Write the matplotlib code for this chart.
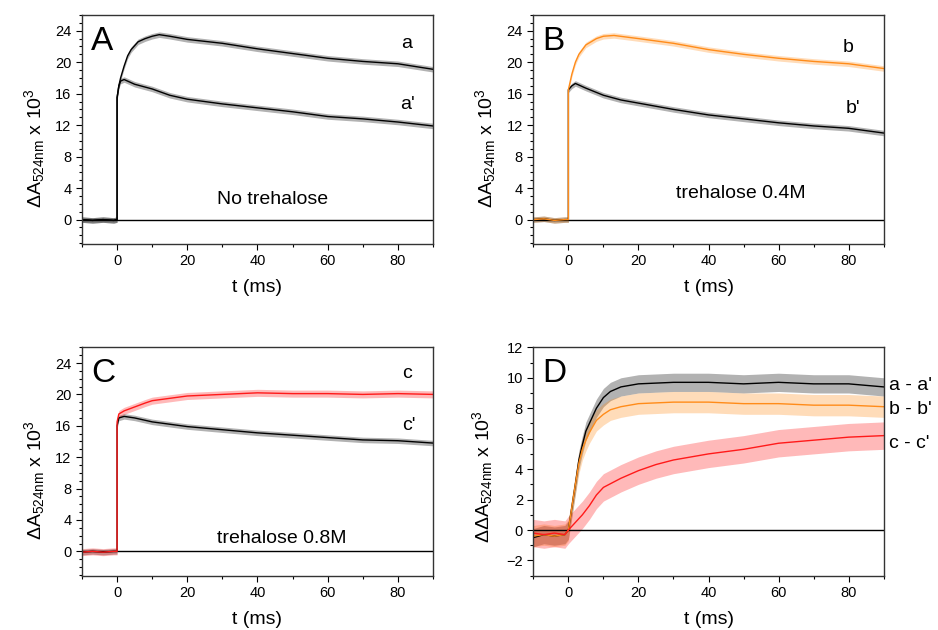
import numpy as np
import matplotlib
matplotlib.use("Agg")
import matplotlib.pyplot as plt
from matplotlib.ticker import MultipleLocator

plt.rcParams['font.family'] = ['Liberation Sans', 'DejaVu Sans']
plt.rcParams['mathtext.default'] = 'regular'

# values (t in ms, signal x 10^3)
# panel A, no trehalose
tA_a = [-10, -7, -4, -1, 0, 0, 0.5, 1, 2, 3, 4, 6, 8, 10, 12, 15, 20, 30, 40, 50, 60, 70, 80, 90]
yA_a = [0.0, -0.1, 0.0, -0.1, 0.0, 15.5, 17.0, 18.0, 19.5, 20.8, 21.6, 22.6, 23.0, 23.3, 23.5, 23.3,
        22.9, 22.4, 21.7, 21.1, 20.5, 20.1, 19.8, 19.1]
tA_b = [-10, -7, -4, -1, 0, 0, 0.5, 1, 2, 5, 10, 15, 20, 30, 40, 50, 60, 70, 80, 90]
yA_b = [0.0, -0.1, 0.0, -0.1, 0.0, 15.5, 17.0, 17.6, 17.8, 17.2, 16.6, 15.8, 15.3, 14.7, 14.2,
        13.7, 13.1, 12.8, 12.4, 11.9]

# panel B, trehalose 0.4M
tB_b = [-10, -7, -4, -1, 0, 0, 1, 2, 3, 5, 8, 10, 13, 20, 30, 40, 50, 60, 70, 80, 90]
yB_b = [0.0, 0.1, -0.1, 0.0, 0.0, 16.5, 18.5, 20.0, 21.0, 22.2, 23.0, 23.3, 23.4, 23.0, 22.4,
        21.6, 21.0, 20.5, 20.1, 19.8, 19.2]
tB_bp = [-10, -7, -4, -1, 0, 0, 1, 2, 5, 10, 15, 20, 30, 40, 50, 60, 70, 80, 90]
yB_bp = [0.0, 0.1, -0.1, 0.0, 0.0, 16.5, 17.0, 17.3, 16.7, 15.8, 15.2, 14.8, 14.0, 13.3, 12.8,
         12.3, 11.9, 11.6, 11.0]

# panel C, trehalose 0.8M
tC_c = [-10, -7, -4, -1, 0, 0, 0.5, 2, 5, 8, 10, 15, 20, 30, 40, 50, 60, 70, 80, 90]
yC_c = [-0.1, 0.0, -0.1, 0.0, 0.0, 16.5, 17.5, 17.9, 18.4, 18.9, 19.2, 19.5, 19.8, 20.0, 20.2,
        20.1, 20.1, 20.0, 20.1, 20.0]
tC_cp = [-10, -7, -4, -1, 0, 0, 0.5, 2, 5, 10, 15, 20, 30, 40, 50, 60, 70, 80, 90]
yC_cp = [-0.1, 0.0, -0.1, 0.0, 0.0, 16.0, 17.0, 17.2, 17.0, 16.5, 16.2, 15.9, 15.5, 15.1, 14.8,
         14.5, 14.2, 14.1, 13.8]

# panel D, differences
tD = [-10, -7, -4, -1, 0, 1, 2, 3, 4, 5, 6, 8, 10, 12, 15, 20, 30, 40, 50, 60, 70, 80, 90]
yD_a = [-0.5, -0.3, -0.4, -0.3, 0.0, 1.5, 3.0, 4.6, 5.6, 6.5, 7.0, 8.0, 8.7, 9.1, 9.4, 9.6,
        9.7, 9.7, 9.6, 9.7, 9.6, 9.6, 9.4]
yD_b = [-0.4, -0.3, -0.4, -0.3, 0.0, 1.5, 3.0, 4.4, 5.3, 5.9, 6.4, 7.2, 7.6, 7.9, 8.1, 8.3,
        8.4, 8.4, 8.3, 8.3, 8.2, 8.2, 8.1]
tD_c = [-10, -7, -4, -1, 0, 2, 4, 6, 8, 10, 15, 20, 25, 30, 40, 50, 60, 70, 80, 90]
yD_c = [-0.2, -0.3, -0.2, -0.3, 0.0, 0.5, 1.0, 1.6, 2.3, 2.8, 3.4, 3.9, 4.3, 4.6, 5.0, 5.3,
        5.7, 5.9, 6.1, 6.2]

# half-width of the noise band of each trace
noise_A = 0.35
noise_D = [0.6, 0.7, 0.9]

orange = '#ff8c1a'
red = '#ff1a1a'

fig = plt.figure(figsize=(9.38, 6.3), dpi=100)
axA = fig.add_axes([0.0874, 0.6127, 0.3742, 0.3635])
axB = fig.add_axes([0.5686, 0.6127, 0.3735, 0.3635])
axC = fig.add_axes([0.0874, 0.0862, 0.3742, 0.3625])
axD = fig.add_axes([0.5686, 0.0862, 0.3735, 0.3625])

ylab = r'ΔA$_{524nm}$ x 10$^{3}$'


def trace(ax, t, y, color, amp, alpha=0.3):
    t = np.array(t)
    y = np.array(y)
    ax.fill_between(t, y - amp, y + amp, color=color, alpha=alpha, lw=0)
    ax.plot(t, y, color=color, lw=1.0)


def style(ax, ylim, major, label, letter):
    ax.axhline(0, color='black', lw=1.0, zorder=1)
    ax.set_xlim(-10, 90)
    ax.set_ylim(*ylim)
    ax.xaxis.set_major_locator(MultipleLocator(20))
    ax.xaxis.set_minor_locator(MultipleLocator(10))
    ax.yaxis.set_major_locator(MultipleLocator(major))
    ax.yaxis.set_minor_locator(MultipleLocator(1))
    ax.tick_params(which='major', direction='out', length=4, width=0.8, labelsize=10.5,
                   top=False, right=False)
    ax.tick_params(which='minor', direction='out', length=2, width=0.8, top=False, right=False)
    for s in ax.spines.values():
        s.set_color('#333333')
        s.set_linewidth(1.0)
    ax.set_xlabel('t (ms)', fontsize=14)
    ax.xaxis.set_label_coords(0.5, -0.155)
    ax.set_ylabel(label, fontsize=14)
    ax.text(0.025, 0.885, letter, transform=ax.transAxes, fontsize=24, va='center', ha='left')


trace(axA, tA_a, yA_a, 'black', noise_A)
trace(axA, tA_b, yA_b, 'black', noise_A)
style(axA, (-3.1, 26), 4, ylab, 'A')
axA.yaxis.set_label_coords(-0.10, 0.42)
axA.text(82.4, 22.4, 'a', fontsize=14, ha='center', va='center')
axA.text(82.8, 14.6, "a'", fontsize=14, ha='center', va='center')
axA.text(44.2, 2.6, 'No trehalose', fontsize=14, ha='center', va='center')

trace(axB, tB_bp, yB_bp, 'black', noise_A)
trace(axB, tB_b, yB_b, orange, noise_A)
style(axB, (-3.1, 26), 4, ylab, 'B')
axB.yaxis.set_label_coords(-0.10, 0.42)
axB.text(79.8, 21.9, 'b', fontsize=14, ha='center', va='center')
axB.text(81.2, 14.1, "b'", fontsize=14, ha='center', va='center')
axB.text(49.3, 3.3, 'trehalose 0.4M', fontsize=14, ha='center', va='center')

trace(axC, tC_cp, yC_cp, 'black', noise_A)
trace(axC, tC_c, yC_c, red, 0.45)
style(axC, (-3.1, 26), 4, ylab, 'C')
axC.yaxis.set_label_coords(-0.10, 0.42)
axC.text(82.5, 22.7, 'c', fontsize=14, ha='center', va='center')
axC.text(83.0, 16.1, "c'", fontsize=14, ha='center', va='center')
axC.text(46.9, 1.6, 'trehalose 0.8M', fontsize=14, ha='center', va='center')

trace(axD, tD, yD_a, 'black', noise_D[0])
trace(axD, tD, yD_b, orange, noise_D[1])
trace(axD, tD_c, yD_c, red, noise_D[2])
style(axD, (-3, 12), 2, r'ΔΔA$_{524nm}$ x 10$^{3}$', 'D')
axD.yaxis.set_label_coords(-0.109, 0.436)
for lab, yv in [("a - a'", 9.5), ("b - b'", 7.9), ("c - c'", 5.7)]:
    axD.text(91.6, yv, lab, fontsize=14, ha='left', va='center', clip_on=False)

fig.savefig('out.png', dpi=100)
